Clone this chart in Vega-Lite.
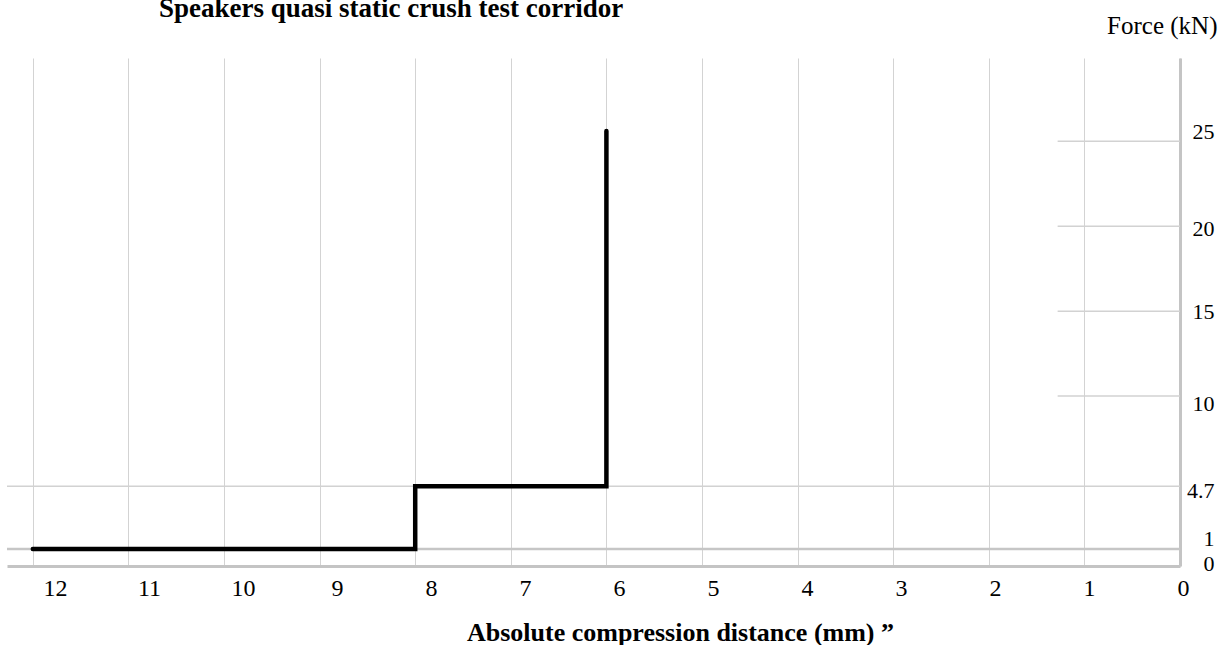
{
  "$schema": "https://vega.github.io/schema/vega-lite/v6.json",
  "autosize": "none",
  "width": 1173,
  "height": 508,
  "padding": {"left": 7, "top": 58, "right": 41, "bottom": 79},
  "background": "white",
  "config": {"view": {"stroke": null}, "font": "Liberation Serif"},
  "title": {
    "text": "Speakers quasi static crush test corridor",
    "anchor": "start",
    "frame": "group",
    "dx": 152,
    "offset": 0,
    "dy": 31,
    "baseline": "alphabetic",
    "font": "Liberation Serif",
    "fontSize": 27,
    "fontWeight": "bold",
    "color": "black"
  },
  "datasets": {
    "corridor": [
      {"i": 1, "x": 12, "y": 1},
      {"i": 2, "x": 8, "y": 1},
      {"i": 3, "x": 8, "y": 4.7},
      {"i": 4, "x": 6, "y": 4.7},
      {"i": 5, "x": 6, "y": 25.6}
    ],
    "lines": [
      {"x": 12.27, "x2": 0, "y": 1, "kind": "major"},
      {"x": 12.27, "x2": 0, "y": 4.7, "kind": "minor"},
      {"x": 1.28, "x2": 0, "y": 10, "kind": "short"},
      {"x": 1.28, "x2": 0, "y": 15, "kind": "short"},
      {"x": 1.28, "x2": 0, "y": 20, "kind": "short"},
      {"x": 1.28, "x2": 0, "y": 25, "kind": "short"}
    ]
  },
  "encoding": {
    "x": {
      "field": "x",
      "type": "quantitative",
      "scale": {"domain": [0, 12.27], "reverse": true, "nice": false, "zero": false},
      "axis": {
        "values": [0, 1, 2, 3, 4, 5, 6, 7, 8, 9, 10, 11, 12],
        "title": "Absolute compression distance (mm) \u201d",
        "titleFont": "Liberation Serif",
        "titleFontSize": 26,
        "titleFontWeight": "bold",
        "titleColor": "black",
        "titleX": 673,
        "titleY": 74,
        "titleAlign": "center",
        "titleBaseline": "alphabetic",
        "labelFont": "Liberation Serif",
        "labelFontSize": 24,
        "labelColor": "black",
        "labelPadding": 10,
        "labelFlush": false,
        "labelOverlap": false,
        "labelOffset": {"condition": {"test": "true", "expr": "3 + 1.6 * datum.value"}, "value": 0},
        "ticks": false,
        "tickSize": 0,
        "grid": true,
        "gridColor": "#d3d3d3",
        "gridWidth": 1,
        "domainColor": "#c4c4c4",
        "domainWidth": 3
      }
    },
    "y": {
      "field": "y",
      "type": "quantitative",
      "scale": {"domain": [0, 29.9], "nice": false, "zero": true},
      "axis": {
        "orient": "right",
        "values": [0, 1, 4.7, 10, 15, 20, 25],
        "format": "~g",
        "title": "Force (kN)",
        "titleAngle": 0,
        "titleFont": "Liberation Serif",
        "titleFontSize": 25,
        "titleFontWeight": "normal",
        "titleColor": "black",
        "titleX": 37,
        "titleY": -25,
        "titleAlign": "right",
        "titleBaseline": "alphabetic",
        "labelFont": "Liberation Serif",
        "labelFontSize": 22,
        "labelColor": "black",
        "labelAlign": "right",
        "labelPadding": 34,
        "labelFlush": false,
        "labelOverlap": false,
        "labelOffset": {"condition": {"test": "true", "expr": "datum.value == 25 ? -10 : datum.value == 20 ? 2 : datum.value == 10 ? 7 : datum.value == 4.7 ? 4 : datum.value == 1 ? -11 : datum.value == 0 ? -3 : 0"}, "value": 0},
        "ticks": false,
        "tickSize": 0,
        "grid": false,
        "domainColor": "#c4c4c4",
        "domainWidth": 3
      }
    }
  },
  "layer": [
    {
      "data": {"name": "lines"},
      "transform": [{"filter": "datum.kind == 'minor'"}],
      "mark": {"type": "rule", "color": "#d2d2d2", "strokeWidth": 1.5},
      "encoding": {"x2": {"field": "x2"}}
    },
    {
      "data": {"name": "lines"},
      "transform": [{"filter": "datum.kind == 'short'"}],
      "mark": {"type": "rule", "color": "#d2d2d2", "strokeWidth": 1.5},
      "encoding": {"x2": {"field": "x2"}}
    },
    {
      "data": {"name": "lines"},
      "transform": [{"filter": "datum.kind == 'major'"}],
      "mark": {"type": "rule", "color": "#c6c6c6", "strokeWidth": 2.5},
      "encoding": {"x2": {"field": "x2"}}
    },
    {
      "data": {"name": "corridor"},
      "mark": {"type": "line", "color": "black", "strokeWidth": 4.5, "strokeCap": "round", "strokeJoin": "miter"},
      "encoding": {"order": {"field": "i", "type": "quantitative"}}
    }
  ]
}
